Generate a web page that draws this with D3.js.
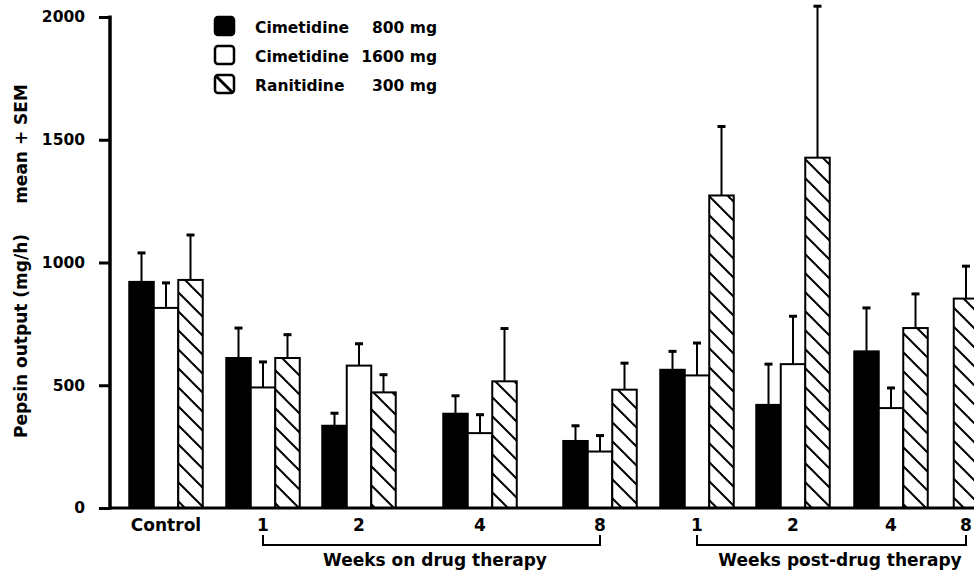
<!DOCTYPE html>
<html>
<head>
<meta charset="utf-8">
<script src="https://cdn.jsdelivr.net/npm/d3@7"></script>
<style>
  body { margin: 0; background: #fff; }
  svg { display: block; font-family: "DejaVu Sans", sans-serif; font-weight: bold; }
</style>
</head>
<body>
<div id="viz"></div>
<script>
// groups along the x axis (control, weeks on therapy, weeks after therapy)
var groups = ["Control", "on1", "on2", "on4", "on8", "post1", "post2", "post4", "post8"];
var tickLabels = ["Control", "1", "2", "4", "8", "1", "2", "4", "8"];

// pepsin output, mg/h (mean) and SEM
var cim800 = [921, 611, 335, 384, 273, 563, 420, 638, null];
var cim800Sem = [118, 122, 51, 73, 62, 75, 166, 177, null];
var cim1600 = [815, 491, 580, 305, 230, 540, 586, 407, null];
var cim1600Sem = [102, 104, 89, 75, 65, 132, 195, 82, null];
var ran300 = [929, 611, 471, 516, 482, 1273, 1427, 733, 853];
var ran300Sem = [183, 95, 72, 215, 108, 281, 617, 139, 132];

var yTicks = [0, 500, 1000, 1500, 2000];

var series = [
  { name: "Cimetidine", dose: "800 mg", values: cim800, sem: cim800Sem, fill: "#000" },
  { name: "Cimetidine", dose: "1600 mg", values: cim1600, sem: cim1600Sem, fill: "#fff" },
  { name: "Ranitidine", dose: "300 mg", values: ran300, sem: ran300Sem, fill: "url(#hatch)" }
];

var width = 974, height = 573;
var axisX = 110, baseY = 508;
var barW = 24.5;

var svg = d3.select("#viz").append("svg")
  .attr("width", width)
  .attr("height", height);

var defs = svg.append("defs");
var pat = defs.append("pattern")
  .attr("id", "hatch")
  .attr("patternUnits", "userSpaceOnUse")
  .attr("width", 19)
  .attr("height", 19);
pat.append("rect").attr("width", 19).attr("height", 19).attr("fill", "#fff");
pat.append("path")
  .attr("d", "M0,0 L19,19 M-5,14 L5,24 M14,-5 L24,5")
  .attr("stroke", "#000")
  .attr("stroke-width", 2);

var y = d3.scaleLinear().domain([0, 2000]).range([baseY, 17]);

// group centres are uneven in the original (gaps between sections)
var x = d3.scaleOrdinal()
  .domain(groups)
  .range([166, 263, 359, 480, 600, 697, 793, 891, 966]);

// how many series have a value in each group
var counts = groups.map(function(g, k) {
  return series.filter(function(s) { return s.values[k] != null; }).length;
});

series.forEach(function(s, si) {
  var rows = groups.map(function(g, i) {
    return { g: g, v: s.values[i], e: s.sem[i], i: i };
  }).filter(function(d) { return d.v != null; });

  function barX(d) {
    var offset = counts[d.i] === 3 ? (si - 1.5) * barW : -0.5 * barW;
    return x(d.g) + offset;
  }

  // error bars first so the bar outline sits on top
  var eb = svg.append("g");
  eb.selectAll("line.err")
    .data(rows)
    .enter().append("line")
    .attr("x1", function(d) { return barX(d) + barW / 2; })
    .attr("x2", function(d) { return barX(d) + barW / 2; })
    .attr("y1", function(d) { return y(d.v); })
    .attr("y2", function(d) { return y(d.v + d.e); })
    .attr("stroke", "#000")
    .attr("stroke-width", 2);
  eb.selectAll("line.cap")
    .data(rows)
    .enter().append("line")
    .attr("x1", function(d) { return barX(d) + barW / 2 - 4; })
    .attr("x2", function(d) { return barX(d) + barW / 2 + 4; })
    .attr("y1", function(d) { return y(d.v + d.e); })
    .attr("y2", function(d) { return y(d.v + d.e); })
    .attr("stroke", "#000")
    .attr("stroke-width", 3);

  svg.append("g").selectAll("rect")
    .data(rows)
    .enter().append("rect")
    .attr("x", barX)
    .attr("y", function(d) { return y(d.v); })
    .attr("width", barW)
    .attr("height", function(d) { return baseY - y(d.v); })
    .attr("fill", s.fill)
    .attr("stroke", "#000")
    .attr("stroke-width", 2);
});

// y axis
var yAxis = d3.axisLeft(y).tickValues(yTicks).tickFormat(d3.format("d"))
  .tickSize(11).tickPadding(14);
var gy = svg.append("g")
  .attr("transform", "translate(" + axisX + ",0)")
  .call(yAxis);
gy.select(".domain").remove();
gy.selectAll(".tick line").attr("stroke", "#000").attr("stroke-width", 3);
gy.selectAll(".tick text")
  .attr("font-family", "DejaVu Sans, sans-serif")
  .attr("font-weight", "bold")
  .attr("font-size", 15.5)
  .attr("fill", "#000");
svg.append("line")
  .attr("x1", axisX).attr("x2", axisX)
  .attr("y1", y(2000) - 1.5).attr("y2", baseY + 1.5)
  .attr("stroke", "#000").attr("stroke-width", 3.5);

// baseline
svg.append("line")
  .attr("x1", axisX).attr("x2", width)
  .attr("y1", baseY).attr("y2", baseY)
  .attr("stroke", "#000").attr("stroke-width", 3);

// x labels
svg.append("g").selectAll("text")
  .data(groups)
  .enter().append("text")
  .attr("x", function(d) { return x(d); })
  .attr("y", 531)
  .attr("text-anchor", "middle")
  .attr("font-size", 17)
  .text(function(d, i) { return tickLabels[i]; });

// section brackets
function bracket(g0, g1, label, labelX) {
  var x0 = x(g0), x1 = x(g1);
  svg.append("path")
    .attr("d", "M" + x0 + ",535 V545 H" + x1 + " V535")
    .attr("fill", "none")
    .attr("stroke", "#000")
    .attr("stroke-width", 2);
  svg.append("text")
    .attr("x", labelX)
    .attr("y", 566)
    .attr("text-anchor", "middle")
    .attr("font-size", 17)
    .text(label);
}
bracket("on1", "on8", "Weeks on drug therapy", 435);
bracket("post1", "post8", "Weeks post-drug therapy", 840);

// y title
svg.append("text")
  .attr("transform", "translate(27,336) rotate(-90)")
  .attr("text-anchor", "middle")
  .attr("font-size", 17)
  .text("Pepsin output (mg/h)");
svg.append("text")
  .attr("transform", "translate(27,144) rotate(-90)")
  .attr("text-anchor", "middle")
  .attr("font-size", 17)
  .text("mean + SEM");

// legend
var leg = svg.append("g").selectAll("g")
  .data(series)
  .enter().append("g")
  .attr("transform", function(d, i) { return "translate(0," + (26 + i * 29) + ")"; });
leg.append("rect")
  .attr("x", 215).attr("y", -9)
  .attr("width", 19).attr("height", 18)
  .attr("rx", 3)
  .attr("fill", function(d) { return d.fill === "#000" ? "#000" : "#fff"; })
  .attr("stroke", "#000")
  .attr("stroke-width", 2.5);
leg.filter(function(d, i) { return i === 2; })
  .append("path")
  .attr("d", "M216,-8 L233,9")
  .attr("stroke", "#000")
  .attr("stroke-width", 3);
leg.append("text")
  .attr("x", 255).attr("y", 7)
  .attr("font-size", 15.5)
  .text(function(d) { return d.name; });
leg.append("text")
  .attr("x", 437).attr("y", 7)
  .attr("text-anchor", "end")
  .attr("font-size", 15.5)
  .text(function(d) { return d.dose; });
</script>
</body>
</html>
